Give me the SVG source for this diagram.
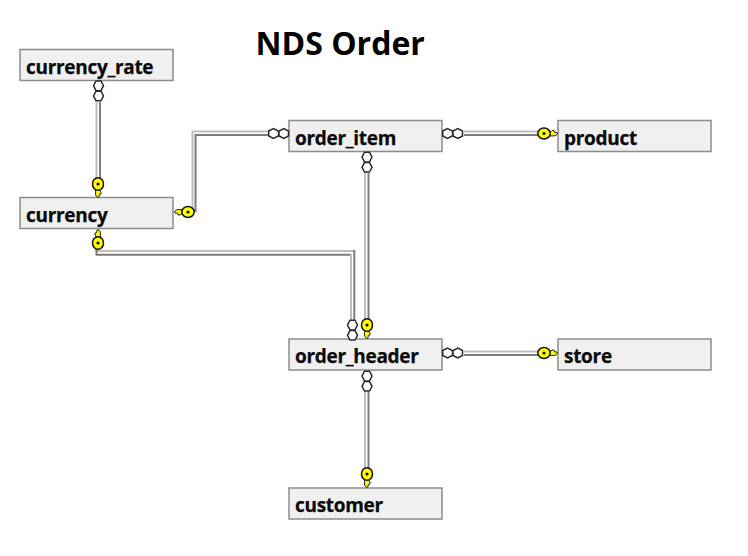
<svg xmlns="http://www.w3.org/2000/svg" width="748" height="556" viewBox="0 0 748 556">
<style>
.box{fill:#f0f0f0;stroke:#8c8c8c;stroke-width:1.5}
.lbl{font-family:"Open Sans","Noto Sans","Liberation Sans",sans-serif;font-weight:700;font-size:19px;letter-spacing:-.3px;fill:#0a0a0a;stroke:#0a0a0a;stroke-width:.25}
.title{font-family:"Open Sans","Noto Sans","Liberation Sans",sans-serif;font-weight:700;font-size:32px;fill:#000}
.l{fill:none;stroke:#bdbdbd;stroke-width:2}
.d{fill:none;stroke:#7c7c7c;stroke-width:2}
.o{fill:#fff;stroke:#2a2a2a;stroke-width:1.500}
</style>
<defs>
<g id="key">
<path d="M-2.400 4V11L-.5 13.500 1 13 1.200 10.500 3 10 3 8 1.800 7 2.400 4Z" fill="#ffff00" stroke="#222" stroke-width="1"/>
<ellipse cx="0" cy="0" rx="5.500" ry="6.200" fill="#ffff00" stroke="#111" stroke-width="1.500"/>
<circle cx="0" cy="0" r="1.600" fill="#111"/>
</g>
<g id="many">
<path class="o" d="M-2.500-4.800H2.500L5 0 2.500 4.800 0 5.200-2.500 4.800-5 0Z"/>
<path class="o" d="M-2.500 5.500H2.500L5 10.300 2.500 15H-2.500L-5 10.300Z"/>
</g>
</defs>
<text class="title" x="255.500" y="55">NDS Order</text>
<g id="connectors">
<path class="l" d="M96.500 102V180"/><path class="d" d="M100 102V180"/>
<path class="l" d="M192.500 212V131.500H270"/><path class="d" d="M195.500 212V135H270"/>
<path class="l" d="M96.500 248V251H354"/><path class="d" d="M96.500 249V254.700H351"/>
<path class="l" d="M351 254V320"/><path class="d" d="M354.300 250V320"/>
<path class="l" d="M365 173V320"/><path class="d" d="M368.500 173V320"/>
<path class="l" d="M365 392V468"/><path class="d" d="M368.500 392V468"/>
<path class="l" d="M464 131.500H538"/><path class="d" d="M464 135H538"/>
<path class="l" d="M464 351.500H538"/><path class="d" d="M464 355H538"/>
</g>
<g id="currency_rate"><rect class="box" x="20" y="49.500" width="153" height="31"/><text class="lbl" x="26" y="73.500">currency_rate</text></g>
<g id="currency"><rect class="box" x="20" y="197.500" width="153" height="31"/><text class="lbl" x="26" y="221.500">currency</text></g>
<g id="order_item"><rect class="box" x="289" y="120.500" width="153" height="31"/><text class="lbl" x="295" y="144.500">order_item</text></g>
<g id="product"><rect class="box" x="558" y="120.500" width="153" height="31"/><text class="lbl" x="564" y="144.500">product</text></g>
<g id="order_header"><rect class="box" x="289" y="339" width="153" height="31"/><text class="lbl" x="295" y="363">order_header</text></g>
<g id="store"><rect class="box" x="558" y="339" width="153" height="31"/><text class="lbl" x="564" y="363">store</text></g>
<g id="customer"><rect class="box" x="289" y="488" width="153" height="31"/><text class="lbl" x="295" y="512">customer</text></g>
<g id="ends">
<use href="#many" transform="translate(98.500 85.700)"/>
<use href="#key" transform="translate(98 184)"/>
<use href="#key" transform="translate(188 212) rotate(90)"/>
<use href="#key" transform="translate(98 243) rotate(180)"/>
<use href="#many" transform="translate(273.500 133.500) rotate(-90)"/>
<use href="#many" transform="translate(447.500 133.500) rotate(-90)"/>
<use href="#key" transform="translate(544 133.500) rotate(-90)"/>
<use href="#many" transform="translate(367 157)"/>
<use href="#key" transform="translate(367 325)"/>
<use href="#many" transform="translate(352.500 325)"/>
<use href="#many" transform="translate(447.500 353) rotate(-90)"/>
<use href="#key" transform="translate(544 353) rotate(-90)"/>
<use href="#many" transform="translate(367 376)"/>
<use href="#key" transform="translate(367 474)"/>
</g>
</svg>
